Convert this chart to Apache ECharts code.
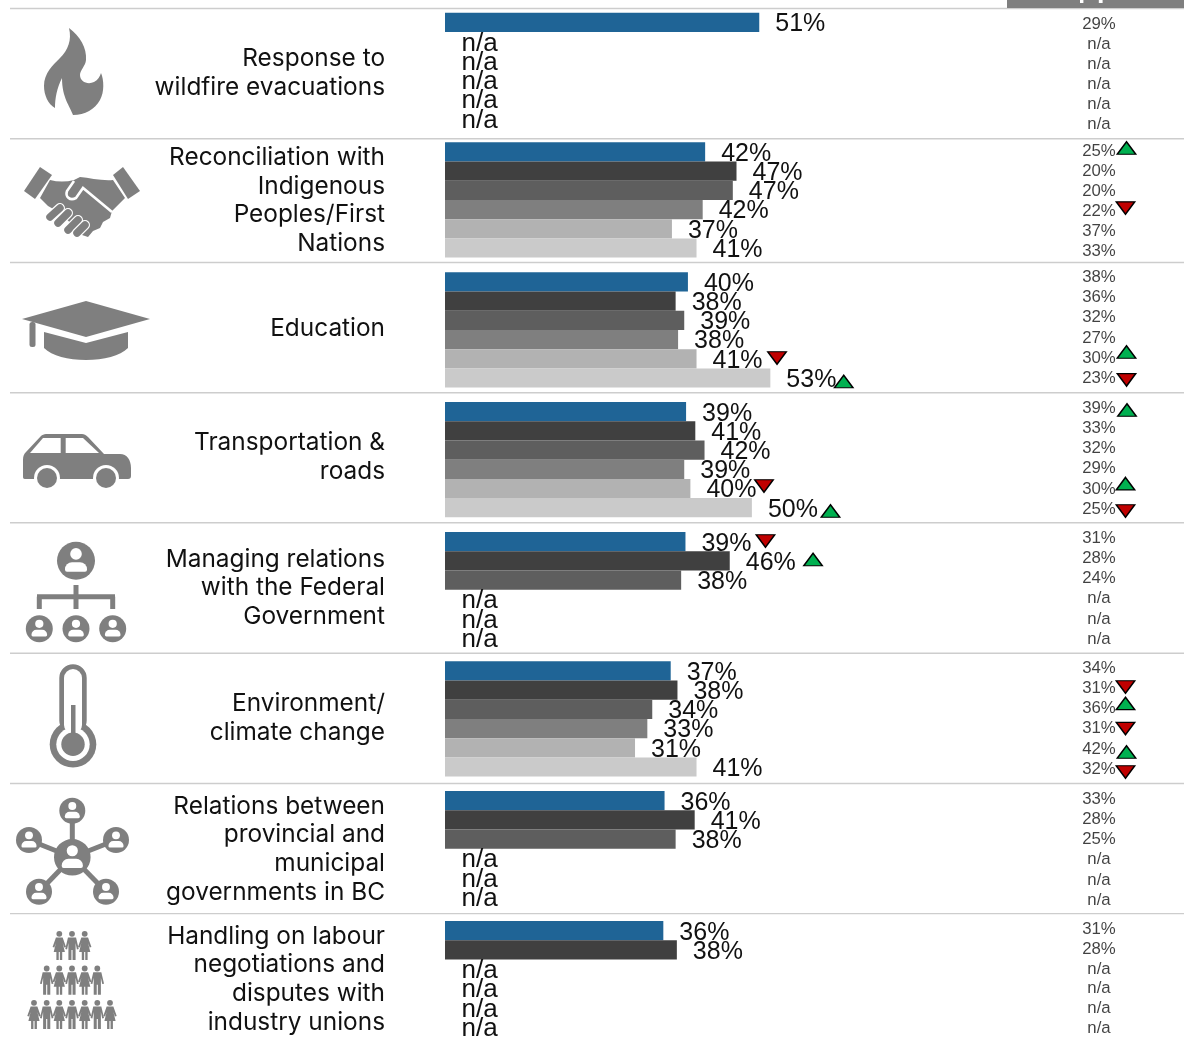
<!DOCTYPE html>
<html>
<head>
<meta charset="utf-8">
<style>html,body{margin:0;padding:0;background:#fff;overflow:hidden}#c{width:1184px;height:1037px}</style>
<script src="https://cdn.jsdelivr.net/npm/echarts@6/dist/echarts.min.js"></script>
</head>
<body>
<div id="c"></div>
<script>
const issues = [
  "Response to\nwildfire evacuations",
  "Reconciliation with\nIndigenous\nPeoples/First\nNations",
  "Education",
  "Transportation &\nroads",
  "Managing relations\nwith the Federal\nGovernment",
  "Environment/\nclimate change",
  "Relations between\nprovincial and\nmunicipal\ngovernments in BC",
  "Handling on labour\nnegotiations and\ndisputes with\nindustry unions"
];
// one list per bar colour (top bar to bottom bar within each issue); null = n/a
const wave1 = [51.1, 42.3, 39.5, 39.2, 39.1, 36.7, 35.7, 35.5];
const wave2 = [null, 47.4, 37.5, 40.7, 46.3, 37.8, 40.6, 37.7];
const wave3 = [null, 46.8, 38.9, 42.2, 38.4, 33.7, 37.5, null];
const wave4 = [null, 41.9, 37.9, 38.9, null, 32.9, null, null];
const wave5 = [null, 36.9, 40.9, 39.9, null, 30.9, null, null];
const wave6 = [null, 40.9, 52.9, 49.9, null, 40.9, null, null];
// right-hand column
const side1 = [29, 25, 38, 39, 31, 34, 33, 31];
const side2 = [null, 20, 36, 33, 28, 31, 28, 28];
const side3 = [null, 20, 32, 32, 24, 36, 25, null];
const side4 = [null, 22, 27, 29, null, 31, null, null];
const side5 = [null, 37, 30, 30, null, 42, null, null];
const side6 = [null, 33, 23, 25, null, 32, null, null];
// change markers: [issue, row, direction]
const barMarks = [[2,4,-1],[2,5,1],[3,4,-1],[3,5,1],[4,0,-1],[4,1,1]];
const sideMarks = [[1,0,1],[1,3,-1],[2,4,1],[2,5,-1],[3,0,1],[3,4,1],[3,5,-1],[5,1,-1],[5,2,1],[5,3,-1],[5,4,1],[5,5,-1]];

// ---------- layout and styling ----------
const waves = [wave1, wave2, wave3, wave4, wave5, wave6];
const sides = [side1, side2, side3, side4, side5, side6];
const colors = ['#1f6496', '#404040', '#5e5e5e', '#7f7f7f', '#b2b2b2', '#cacaca'];
const barTops = [12.7, 142.3, 272.3, 402, 532, 661.3, 791, 921];
const sideTops = [12.7, 139.7, 266.3, 397.2, 527.2, 657.2, 788.2, 918.2];
const ruleYs = [8.5, 138.7, 262.5, 392.8, 522.8, 653.3, 783.5, 913.6];
const nameYs = [73.5, 200.8, 328.3, 457, 588, 718.5, 849.3, 979.3];
const barMarkOffsets = [[80.5,-.8],[73.4,3.5],[73.6,-2.5],[78.6,3.3],[80,-.6],[83.3,-1.3]];
const sideMarkOffsets = [[27.5,-1.75],[26.5,-2],[27.5,-4.75],[27.5,3],[28,2.75],[26.5,-4],[26.5,3.25],[26.5,-.35],[26.5,-4],[26.5,1],[27.5,4.35],[26.5,4.25]];
const rows = [0,1,2,3,4,5];
const GREY = '#7f7f7f';
const INK = '#111111';

const grid = [], xAxis = [], yAxis = [], series = [];
function addAxes(left, width, top, height, min, max) {
  grid.push({left, width, top, height, containLabel:false});
  xAxis.push({type:'value', min, max, show:false, gridIndex:grid.length-1});
  yAxis.push({type:'category', data:rows, inverse:true, show:false, gridIndex:grid.length-1});
  return grid.length-1;
}
function markItem(x, row, dir, off) {
  return {
    value:[x,row], symbol:'triangle', symbolSize:[18.5,12.5],
    symbolRotate: dir>0 ? 0 : 180, symbolOffset: off,
    itemStyle:{color: dir>0 ? '#00b050' : '#c00000', borderColor:'#000', borderWidth:1.4, opacity:1}
  };
}
issues.forEach((name, g) => {
  const gi = addAxes(445, 615, barTops[g], 115.32, 0, 100);
  waves.forEach((w, r) => {
    const v = w[g];
    const data = rows.map(i => i===r ? (v==null ? 0 : v) : '-');
    series.push({
      type:'bar', name:'Wave '+(r+1), xAxisIndex:gi, yAxisIndex:gi, data,
      barWidth:'100%', barGap:'-100%', z:3+r, silent:true,
      itemStyle:{color:colors[r]},
      label:{show:true, position:'right', distance:v==null ? 16.5 : 16, offset:[0,2], color:INK,
        fontFamily:'Liberation Sans', fontSize:v==null ? 26 : 25,
        formatter: () => v==null ? 'n/a' : Math.round(v)+'%'}
    });
  });
  const mks = barMarks.map((m,i)=>[m,i]).filter(([m])=>m[0]===g);
  if (mks.length) series.push({
    type:'scatter', xAxisIndex:gi, yAxisIndex:gi, z:20, silent:true,
    data: mks.map(([m,i]) => markItem(waves[m[1]][g], m[1], m[2], barMarkOffsets[i]))
  });
  const si = addAxes(1059, 80, sideTops[g], 120.6, -1, 1);
  series.push({
    type:'scatter', xAxisIndex:si, yAxisIndex:si, z:10, silent:true,
    symbolSize:1, itemStyle:{color:'transparent'},
    data: sides.map((s,r) => ({value:[0,r], label:{formatter: s[g]==null ? 'n/a' : s[g]+'%'}})),
    label:{show:true, position:'inside', offset:[0,1.3], color:INK, fontFamily:'Liberation Sans', fontSize:16.8}
  });
  const smk = sideMarks.map((m,i)=>[m,i]).filter(([m])=>m[0]===g);
  if (smk.length) series.push({
    type:'scatter', xAxisIndex:si, yAxisIndex:si, z:20, silent:true,
    data: smk.map(([m,i]) => markItem(0, m[1], m[2], sideMarkOffsets[i]))
  });
});

// ---------- decoration: rules, header band, issue names, icons ----------
const gfx = [];
const fill = {fill:GREY};
const white = {fill:'#fff'};
let pathCount = 0;
function path(d, style=fill) {
  const name = 'iconPath' + (pathCount++);
  echarts.graphic.registerShape(name, echarts.graphic.extendPath(d));
  return {type:name, style};
}
const C = (cx,cy,r,style=fill) => ({type:'circle', shape:{cx,cy,r}, style});
const R = (x,y,width,height,r=0,style=fill) => ({type:'rect', shape:{x,y,width,height,r}, style});
const L = (x1,y1,x2,y2,w,color=GREY,cap='butt') => ({type:'line', shape:{x1,y1,x2,y2}, style:{stroke:color,lineWidth:w,lineCap:cap}});

ruleYs.forEach(y => gfx.push(L(10,y,1184,y,1.4,'#cdcdcd')));
gfx.push(R(1007,0,177,8));
gfx.push(R(1080,0,3.4,3,0,white), R(1098.8,0,3.8,3,0,white));

issues.forEach((t,i) => gfx.push({type:'text', style:{text:t, x:385, y:nameYs[i], align:'right', verticalAlign:'middle',
  fill:INK, font:'24.4px Inter', lineHeight:28.7}}));

// flame
gfx.push(path('M69 28C80 36 87 48 86 60C85.5 66 80 70 80 75C80 82 88 85 94 82C98 80 100 76 101 73C104 80 104.5 92 100 100C95 109 85 115 73 115C70 106 62 98 62 78C57 88 55 98 55 108C48 104 44 95 44 86C44 73 53 65 60 58C68 50 72 40 69 28Z'));
// handshake
gfx.push(path('M40 167L52 175L35 199L24 191Z'), path('M123 167L140 191L128 199L113 175Z'));
gfx.push(path('M50 180C58 182 66 182 74 180L80 177C90 178 102 181 113 180L125 198L112 211L110 218L103 222L100 228L93 231L88 237L82 235L78 229L55 210L48 206L40 198Z'));
gfx.push(path('M74 181L67 191C65 197 70 201 76 198L83 188L112 212', {stroke:'#fff', lineWidth:2.6, fill:'none'}));
[[50,217,60,208],[58,223,68,213],[68,230,78,220],[77,233,85,225]].forEach(f => {
  gfx.push(L(f[0],f[1],f[2],f[3],10,'#fff','round'));
  gfx.push(L(f[0],f[1],f[2],f[3],7.5,GREY,'round'));
});
// mortarboard
gfx.push(path('M86 301L150 319L86 337L22 319Z'), R(29.5,322,6,25,2.5));
gfx.push(path('M44 332L86 343L128 332L128 348C120 356 104 360 86 360C68 360 52 356 44 348Z'));
// car
gfx.push(path('M23 460C23 456 24 454 26 452L41 436C42 435 44 434 46 434L82 434C84 434 86 435 88 437L104 454L120 454C127 454 131 460 131 468L131 476C131 478 130 479 128 479L25 479C23 479 23 478 23 476Z'));
gfx.push(path('M30 453L43 438L60.7 438L60.7 453Z', white), path('M65.7 438L83 438L99 453L65.7 453Z', white));
[47,106].forEach(x => gfx.push(C(x,478,13,white), C(x,478,10)));
// org chart
function person(cx, cy, r) {
  const k = r/19;
  gfx.push(C(cx, cy, r));
  gfx.push(C(cx, cy-6.8*k, 5.8*k, white));
  gfx.push(R(cx-11*k, cy+1.5*k, 22*k, 9.5*k, [7*k,7*k,2*k,2*k], white));
}
person(76,560.7,19);
gfx.push(L(76,585,76,609,5), L(37,596.7,115,596.7,5), L(39.3,596.7,39.3,609,5), L(112.7,596.7,112.7,609,5));
[39.3,76,112.7].forEach(x => person(x,628.7,13.5));
// thermometer
gfx.push(R(59.3,664.3,27.4,70,13.7), C(73,744.3,23.3));
gfx.push(R(64,669,18,65,9,white), C(73,744.3,16.7,white));
gfx.push(R(71,705,4.5,30), C(73,744.3,11.7));
// network
const hub = [72.3,857.3];
const spokes = [[72.3,810.7],[29,840],[116,840],[39,891.7],[106,891.7]];
spokes.forEach(p => gfx.push(L(hub[0],hub[1],p[0],p[1],5)));
spokes.forEach(p => person(p[0],p[1],13));
person(hub[0],hub[1],18.3);
// people pyramid
function figure(x, y, dress) {
  gfx.push(C(x, y+2.8, 2.9));
  const a = d => x + d*1.12;
  if (dress) {
    gfx.push(path(`M${a(-3)} ${y+6.5}L${a(3)} ${y+6.5}L${a(6)} ${y+16}L${a(4.4)} ${y+16.6}L${a(3)} ${y+12}L${a(5)} ${y+21}L${a(2.6)} ${y+21}L${a(2.6)} ${y+29}L${a(.5)} ${y+29}L${a(.5)} ${y+21}L${a(-.5)} ${y+21}L${a(-.5)} ${y+29}L${a(-2.6)} ${y+29}L${a(-2.6)} ${y+21}L${a(-5)} ${y+21}L${a(-3)} ${y+12}L${a(-4.4)} ${y+16.6}L${a(-6)} ${y+16}Z`));
  } else {
    gfx.push(path(`M${a(-3.6)} ${y+6.5}L${a(3.6)} ${y+6.5}L${a(6)} ${y+18}L${a(4.4)} ${y+18.4}L${a(3.2)} ${y+12}L${a(3.2)} ${y+29}L${a(.5)} ${y+29}L${a(.5)} ${y+19}L${a(-.5)} ${y+19}L${a(-.5)} ${y+29}L${a(-3.2)} ${y+29}L${a(-3.2)} ${y+12}L${a(-4.4)} ${y+18.4}L${a(-6)} ${y+18}Z`));
  }
}
[[59.3,72,84.7,931],[46.7,59.3,72,84.7,97.3,965.7],[34,46.7,59.3,72,84.7,97.3,110,1000]].forEach(row => {
  const y = row[row.length-1], xs = row.slice(0,-1);
  xs.forEach((x,i) => figure(x, y, xs.length===5 ? i%2===1 : i%2===0));
});

const chart = echarts.init(document.getElementById('c'), null, {renderer:'canvas'});
chart.setOption({
  animation:false, backgroundColor:'#fff', tooltip:{show:false}, legend:{show:false},
  grid, xAxis, yAxis, series,
  graphic:{elements: gfx.map(e => Object.assign({silent:true, z:30}, e))}
});
</script>
</body>
</html>
